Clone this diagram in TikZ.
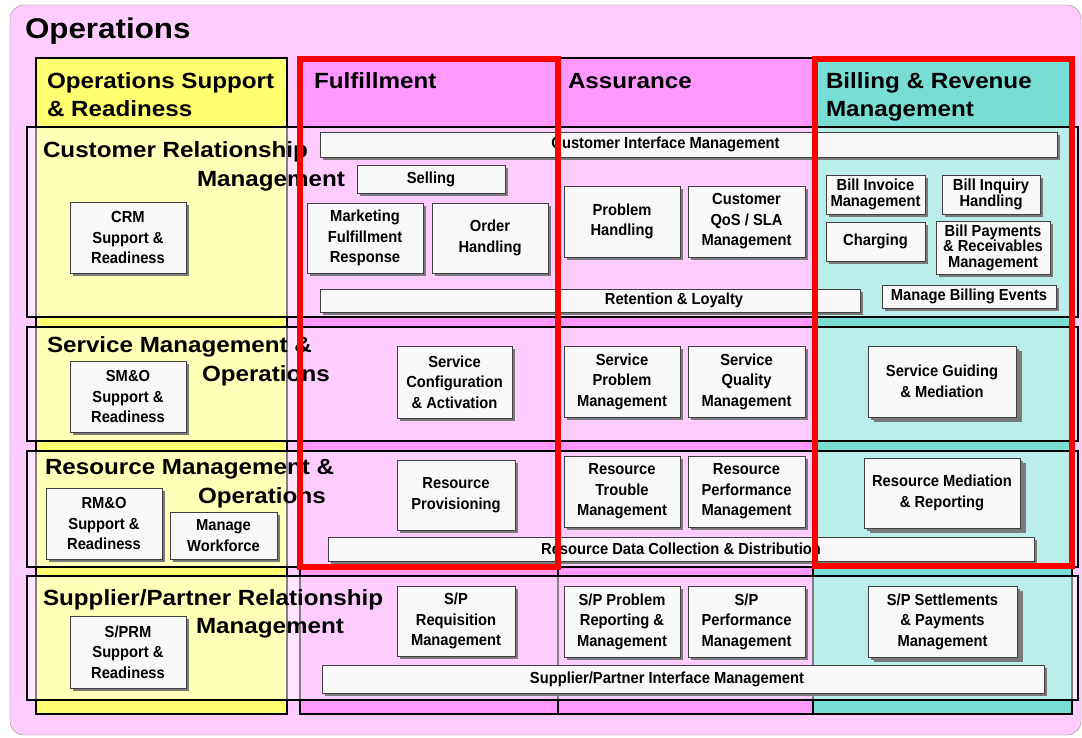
\documentclass[tikz,border=0pt]{standalone}
\usepackage{fontspec}
\usepackage{tikz}
\usetikzlibrary{shadows}
\usetikzlibrary{positioning}
\newfontfamily\bigfont[FakeStretch=1.1]{Liberation Sans}
\newfontfamily\boxfont[FakeStretch=0.92]{Liberation Sans}
\definecolor{opsbg}{HTML}{FFCCFF}
\definecolor{osryellow}{HTML}{FFFF70}
\definecolor{fulpink}{HTML}{FF99FF}
\definecolor{bilteal}{HTML}{77DDD5}
\definecolor{shadowgray}{HTML}{7A7A7A}
\definecolor{boxwhite}{HTML}{F8F8F8}
\tikzset{x=1pt, y=-1pt, node distance=8pt, every node/.style={outer sep=0pt}}
\tikzstyle{column} = [draw=black, line width=2.5pt]
\tikzstyle{layer} = [draw=black, line width=2.5pt, fill=white, fill opacity=0.5]
\tikzstyle{lbl} = [anchor=base west, inner sep=0pt, text=black, font={\bigfont\bfseries\fontsize{22pt}{26pt}\selectfont}]
\tikzstyle{fn} = [draw=black!75, fill=boxwhite, line width=0.8pt, inner sep=1pt, align=center, text=black, font={\boxfont\bfseries\fontsize{16pt}{20.5pt}\selectfont}, drop shadow={shadow xshift=3pt, shadow yshift=-3pt, fill=shadowgray, opacity=1}]
\tikzstyle{bill} = [font={\boxfont\bfseries\fontsize{16pt}{15.5pt}\selectfont}]
\tikzstyle{deep} = [drop shadow={shadow xshift=5.5pt, shadow yshift=-5pt, fill=shadowgray, opacity=1}]
\tikzstyle{hilite} = [draw=red, line width=5.5pt]

\begin{document}
\begin{tikzpicture}
  \useasboundingbox (0,0) rectangle (1082,738);
  \fill[white] (0,0) rectangle (1082,738);
  \draw[draw=black!45, fill=opsbg, rounded corners=14pt] (10,5) rectangle (1081,735);
  \node[lbl, font={\bigfont\bfseries\fontsize{28.5pt}{32pt}\selectfont}] (ops) at (25,39) {Operations};

  \draw[column, fill=osryellow] (36,58) rectangle (287,714);
  \draw[column, fill=fulpink] (300,58) rectangle (558,714);
  \draw[column, fill=fulpink] (558,58) rectangle (813,714);
  \draw[column, fill=bilteal] (813,58) rectangle (1072,714);

  \draw[layer] (27,127) rectangle (1078,317);
  \draw[layer] (27,327) rectangle (1078,441);
  \draw[layer] (27,451) rectangle (1078,567);
  \draw[layer] (27,576) rectangle (1078,700);

  \node[lbl] (osrhead1) at (47,89) {Operations Support};
  \node[lbl] (osrhead2) at (47,117) {\& Readiness};
  \node[lbl] (fulhead) at (314,89) {Fulfillment};
  \node[lbl] (asshead) at (568,89) {Assurance};
  \node[lbl] (bilhead1) at (826,89) {Billing \& Revenue};
  \node[lbl] (bilhead2) at (826,117) {Management};
  \node[lbl] (crmhead1) at (43,158) {Customer Relationship};
  \node[lbl] (crmhead2) at (197,187) {Management};
  \node[lbl] (smohead1) at (47,352) {Service Management \&};
  \node[lbl] (smohead2) at (202,381) {Operations};
  \node[lbl] (rmohead1) at (45,474) {Resource Management \&};
  \node[lbl] (rmohead2) at (198,503) {Operations};
  \node[lbl] (sprmhead1) at (43,605) {Supplier/Partner Relationship};
  \node[lbl] (sprmhead2) at (196,633) {Management};

  \node[fn, minimum width=737pt, minimum height=25pt] (custif) at (688.5,144.5) {Customer Interface Management\hspace*{46pt}};
  \node[fn, minimum width=148pt, minimum height=28pt] (selling) at (431,179) {Selling};
  \node[fn, minimum width=116pt, minimum height=70pt] (mktfr) at (365,238) {Marketing\\Fulfillment\\Response};
  \node[fn, minimum width=116pt, minimum height=70pt, right=9pt of mktfr] (order) {Order\\Handling};
  \node[fn, minimum width=116pt, minimum height=71pt] (problem) at (622,221.5) {Problem\\Handling};
  \node[fn, minimum width=117pt, minimum height=71pt, right=8pt of problem] (qos) {Customer\\QoS / SLA\\Management};
  \node[fn, bill, minimum width=99pt, minimum height=39pt] (invoice) at (875.5,194.5) {Bill Invoice\\Management};
  \node[fn, bill, minimum width=98pt, minimum height=39pt, right=17pt of invoice] (inquiry) {Bill Inquiry\\Handling};
  \node[fn, minimum width=99pt, minimum height=39pt, below=8pt of invoice] (charging) {Charging};
  \node[fn, bill, minimum width=114pt, minimum height=53pt] (payments) at (993,247.5) {Bill Payments\\\& Receivables\\Management};
  \node[fn, minimum width=174pt, minimum height=23pt] (billevents) at (969,296.5) {Manage Billing Events};
  \node[fn, minimum width=540pt, minimum height=23pt] (retention) at (590,300.5) {\hspace*{168pt}Retention \& Loyalty};
  \node[fn, minimum width=116pt, minimum height=71pt] (crmsr) at (128,237.5) {CRM\\Support \&\\Readiness};

  \node[fn, minimum width=116pt, minimum height=71pt] (smosr) at (128,396.5) {SM\&O\\Support \&\\Readiness};
  \node[fn, minimum width=115pt, minimum height=72pt] (svcconf) at (454.5,382) {Service\\Configuration\\\& Activation};
  \node[fn, minimum width=116pt, minimum height=71pt] (svcprob) at (622,381.5) {Service\\Problem\\Management};
  \node[fn, minimum width=117pt, minimum height=71pt, right=8pt of svcprob] (svcqual) {Service\\Quality\\Management};
  \node[fn, deep, minimum width=148pt, minimum height=71pt] (svcguide) at (942,381.5) {Service Guiding\\\& Mediation};

  \node[fn, minimum width=116pt, minimum height=71pt] (rmosr) at (104,523.5) {RM\&O\\Support \&\\Readiness};
  \node[fn, minimum width=107pt, minimum height=47pt] (workforce) at (223.5,535.5) {Manage\\Workforce};
  \node[fn, minimum width=118pt, minimum height=70pt] (resprov) at (456,495) {Resource\\Provisioning};
  \node[fn, minimum width=116pt, minimum height=71pt] (restrouble) at (622,491.5) {Resource\\Trouble\\Management};
  \node[fn, minimum width=117pt, minimum height=71pt, right=8pt of restrouble] (resperf) {Resource\\Performance\\Management};
  \node[fn, deep, minimum width=156pt, minimum height=70pt] (resmed) at (942,493) {Resource Mediation\\\& Reporting};
  \node[fn, minimum width=706pt, minimum height=24pt] (resdata) at (681,549) {Resource Data Collection \& Distribution};

  \node[fn, minimum width=116pt, minimum height=72pt] (sprmsr) at (128,652) {S/PRM\\Support \&\\Readiness};
  \node[fn, minimum width=118pt, minimum height=70pt] (spreq) at (456,621) {S/P\\Requisition\\Management};
  \node[fn, minimum width=116pt, minimum height=71pt] (spprob) at (622,621.5) {S/P Problem\\Reporting \&\\Management};
  \node[fn, minimum width=117pt, minimum height=71pt, right=8pt of spprob] (spperf) {S/P\\Performance\\Management};
  \node[fn, deep, minimum width=149pt, minimum height=71pt] (spsettle) at (942.5,621.5) {S/P Settlements\\\& Payments\\Management};
  \node[fn, minimum width=722pt, minimum height=28pt] (spif) at (683,679) {Supplier/Partner Interface Management\hspace*{32pt}};

  \draw[hilite] (300,59) rectangle (558,567);
  \draw[hilite] (815,59) rectangle (1072,566);
\end{tikzpicture}
\end{document}
